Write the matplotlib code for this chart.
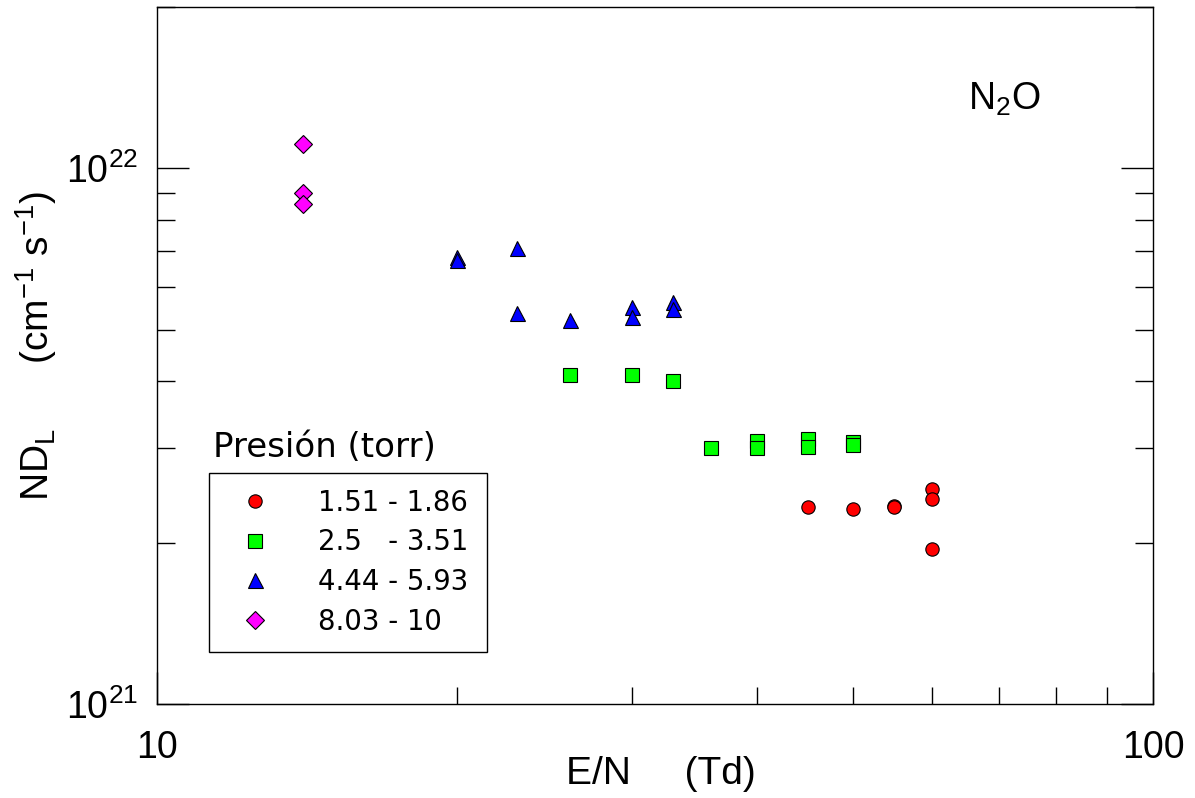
import matplotlib
matplotlib.use("Agg")
import matplotlib.pyplot as plt
from matplotlib.ticker import LogLocator, NullFormatter, FixedLocator, FuncFormatter

plt.rcParams['font.family'] = ['Liberation Sans', 'DejaVu Sans']
plt.rcParams['mathtext.fontset'] = 'custom'
plt.rcParams['mathtext.rm'] = 'Liberation Sans'
plt.rcParams['mathtext.it'] = 'Liberation Sans:italic'
plt.rcParams['mathtext.bf'] = 'Liberation Sans:bold'
plt.rcParams['mathtext.default'] = 'regular'

# ---- data ----
series_labels = ["1.51 - 1.86", "2.5   - 3.51", "4.44 - 5.93", "8.03 - 10"]

circ_x = [45, 50, 55, 55, 60, 60, 60]
circ_y = [2.33e21, 2.31e21, 2.34e21, 2.33e21, 2.52e21, 2.41e21, 1.95e21]

sq_x = [26, 30, 33, 36, 40, 40, 45, 45, 50, 50]
sq_y = [4.12e21, 4.11e21, 4.00e21, 3.01e21, 3.10e21, 3.01e21, 3.12e21, 3.02e21, 3.08e21, 3.05e21]

tri_x = [20, 20, 23, 23, 26, 30, 30, 33, 33]
tri_y = [6.83e21, 6.73e21, 7.11e21, 5.37e21, 5.20e21, 5.50e21, 5.27e21, 5.64e21, 5.47e21]

dia_x = [14, 14, 14]
dia_y = [1.11e22, 9.0e21, 8.57e21]

W, H = 1195, 798
fig = plt.figure(figsize=(W / 100, H / 100), dpi=100)
ax = fig.add_axes([157 / W, 1 - 704 / H, 996 / W, 697 / H])

ax.set_xscale('log')
ax.set_yscale('log')
ax.set_xlim(10, 100)
ax.set_ylim(1e21, 2e22)

mk = dict(ls='none', markeredgecolor='black', markeredgewidth=0.8)
h1, = ax.plot(circ_x, circ_y, marker='o', ms=9.6, markerfacecolor='#FF0000', label=series_labels[0], **mk)
h2, = ax.plot(sq_x, sq_y, marker='s', ms=9.4, markerfacecolor='#00FF00', label=series_labels[1], **mk)
h3, = ax.plot(tri_x, tri_y, marker='^', ms=10.8, markerfacecolor='#0000FF', label=series_labels[2], **mk)
h4, = ax.plot(dia_x, dia_y, marker='D', ms=8.8, markerfacecolor='#FF00FF', label=series_labels[3], **mk)

for s in ax.spines.values():
    s.set_linewidth(1.0)

# ticks
ax.xaxis.set_major_locator(FixedLocator([10, 100]))
ax.xaxis.set_major_formatter(FuncFormatter(lambda v, p: f"{int(round(v))}"))
ax.xaxis.set_minor_locator(LogLocator(base=10, subs=range(2, 10)))
ax.xaxis.set_minor_formatter(NullFormatter())
ax.yaxis.set_major_locator(LogLocator(base=10))
ax.yaxis.set_minor_locator(LogLocator(base=10, subs=range(2, 10)))
ax.yaxis.set_minor_formatter(NullFormatter())

ax.tick_params(axis='x', which='both', direction='in', top=False, bottom=True,
               labelsize=27, pad=19, width=1.0)
ax.tick_params(axis='x', which='major', length=23)
ax.tick_params(axis='x', which='minor', length=12.5)
ax.tick_params(axis='y', which='both', direction='in', left=True, right=True,
               labelsize=27, pad=14, width=1.0)
ax.tick_params(axis='y', which='major', length=23)
ax.tick_params(axis='y', which='minor', length=13)

ax.set_xlabel("E/N     (Td)", fontsize=28)
ax.xaxis.set_label_coords(0.506, -0.075)
ax.set_ylabel("ND$_L$      (cm$^{-1}$ s$^{-1}$)", fontsize=28)
ax.yaxis.set_label_coords(-0.098, 0.514)

ax.text((968 - 157) / 996, (704 - 110) / 697, "N$_2$O", transform=ax.transAxes,
        fontsize=27, ha='left', va='baseline')

leg = ax.legend(handles=[h1, h2, h3, h4], loc='upper left',
                bbox_to_anchor=((209 - 157) / 996, (704 - 649) / 697, (487 - 209) / 996, (649 - 473) / 697),
                mode='expand', borderaxespad=0, fancybox=False, framealpha=1,
                edgecolor='black', prop={'family': 'DejaVu Sans', 'size': 19.8},
                borderpad=0.58, labelspacing=0.42, handlelength=2.2, handletextpad=1.2,
                numpoints=1)
leg.get_frame().set_linewidth(1.0)

fig.text(213 / W, 1 - 457 / H, "Presión (torr)", fontsize=24.5, family='DejaVu Sans',
         ha='left', va='baseline')

fig.savefig("out.png", dpi=100)
